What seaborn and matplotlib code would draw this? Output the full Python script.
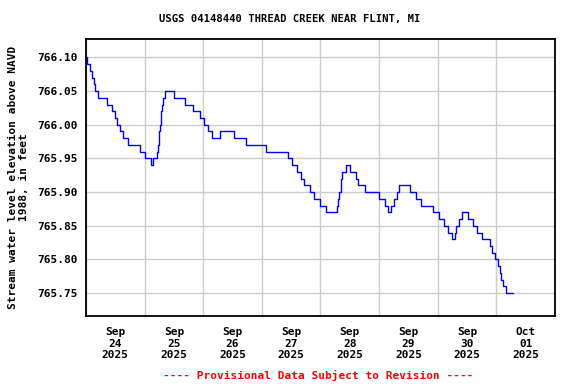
import pandas as pd
import seaborn as sns
import matplotlib
matplotlib.use("Agg")
import matplotlib.pyplot as plt
import matplotlib.dates as mdates

# gage height change points: hours after 2025-09-24 00:00 and level (ft)
hours = [0.0, 0.3, 1.5, 2.4, 3.2, 3.8, 5.1, 8.5, 10.8, 11.75, 12.6, 13.8, 15.2, 17.0,
         22.0, 24.0, 26.5, 27.3, 29.1, 29.5, 29.8, 29.9, 30.3, 30.6, 30.75, 31.2, 31.6,
         32.4, 36.1, 40.6, 43.7, 46.6, 48.2, 49.8, 51.6, 54.75, 60.5, 65.6, 73.6, 82.9,
         84.5, 86.2, 88.0, 89.3, 91.9, 93.5, 96.0, 98.4, 102.8, 103.2, 103.6, 104.2,
         104.6, 105.0, 106.5, 108.0, 110.6, 111.5, 114.3, 119.9, 122.3, 123.5, 124.7,
         126.0, 127.4, 128.3, 132.7, 134.9, 137.2, 142.0, 144.5, 146.5, 148.3, 150.0,
         151.0, 151.6, 152.6, 154.0, 156.5, 158.4, 160.2, 162.2, 165.6, 166.4, 167.5,
         168.5, 169.3, 170.1, 170.9, 171.9, 174.9]
levels = [766.10, 766.09, 766.08, 766.07, 766.06, 766.05, 766.04, 766.03, 766.02, 766.01,
          766.00, 765.99, 765.98, 765.97, 765.96, 765.95, 765.94, 765.95, 765.96, 765.97,
          765.98, 765.99, 766.00, 766.01, 766.02, 766.03, 766.04, 766.05, 766.04, 766.03,
          766.02, 766.01, 766.00, 765.99, 765.98, 765.99, 765.98, 765.97, 765.96, 765.95,
          765.94, 765.93, 765.92, 765.91, 765.90, 765.89, 765.88, 765.87, 765.88, 765.89,
          765.90, 765.91, 765.92, 765.93, 765.94, 765.93, 765.92, 765.91, 765.90, 765.89,
          765.88, 765.87, 765.88, 765.89, 765.90, 765.91, 765.90, 765.89, 765.88, 765.87,
          765.86, 765.85, 765.84, 765.83, 765.84, 765.85, 765.86, 765.87, 765.86, 765.85,
          765.84, 765.83, 765.82, 765.81, 765.80, 765.79, 765.78, 765.77, 765.76, 765.75,
          765.75]
ytick_vals = [765.75, 765.80, 765.85, 765.90, 765.95, 766.00, 766.05, 766.10]

start = pd.Timestamp("2025-09-24 00:00")
df = pd.DataFrame({"time": start + pd.to_timedelta(hours, unit="h"), "level": levels})

sns.set_style("white")
plt.rcParams["font.family"] = ["DejaVu Sans Mono"]
plt.rcParams["font.weight"] = "bold"
plt.rcParams["text.color"] = "black"
plt.rcParams["axes.labelcolor"] = "black"
plt.rcParams["xtick.color"] = "black"
plt.rcParams["ytick.color"] = "black"

fig = plt.figure(figsize=(5.76, 3.84), dpi=100)
ax = fig.add_axes([0.1493, 0.177, 0.8142, 0.721])

sns.lineplot(data=df, x="time", y="level", ax=ax, color="#0000ff", linewidth=1,
             drawstyle="steps-post", estimator=None)

ax.set_xlim(start, start + pd.Timedelta(days=8))
ax.set_ylim(765.716, 766.127)
ax.set_yticks(ytick_vals)
ax.set_yticklabels([f"{v:.2f}" for v in ytick_vals], fontsize=8, fontweight="bold")

ax.xaxis.set_major_locator(mdates.HourLocator(byhour=12))
ax.xaxis.set_major_formatter(mdates.DateFormatter("%b\n%d\n%Y"))
ax.xaxis.set_minor_locator(mdates.DayLocator())
for lab in ax.get_xticklabels():
    lab.set_fontsize(8)
    lab.set_fontweight("bold")
ax.tick_params(axis="x", which="both", length=0, pad=8)
ax.tick_params(axis="y", length=0, pad=6)

ax.grid(False)
ax.grid(True, axis="x", which="minor", color="#cccccc", linewidth=1)
ax.grid(True, axis="y", which="major", color="#cccccc", linewidth=1)
ax.set_axisbelow(True)
for s in ax.spines.values():
    s.set_color("black")
    s.set_linewidth(1.3)

ax.set_xlabel("")
ax.set_ylabel("Stream water level elevation above NAVD\n1988, in feet",
              fontsize=8, fontweight="bold", labelpad=6, linespacing=1.1)
fig.text(0.503, 0.95, "USGS 04148440 THREAD CREEK NEAR FLINT, MI", fontsize=7.6,
         fontweight="bold", ha="center", va="center")
fig.text(0.553, 0.023, "---- Provisional Data Subject to Revision ----",
         color="red", fontsize=8, fontweight="bold", ha="center", va="center")

fig.savefig("out.png", dpi=100)
